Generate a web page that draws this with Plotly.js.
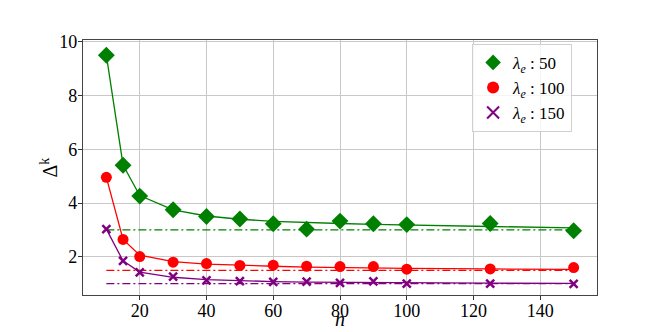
<!DOCTYPE html>
<html>
<head>
<meta charset="utf-8">
<script src="https://cdn.plot.ly/plotly-3.0.1.min.js"></script>
<style>html,body{margin:0;padding:0;background:#fff;}</style>
</head>
<body>
<div id="chart" style="width:664px;height:332px;"></div>
<script>
// Data
const nValues = [10, 15, 20, 30, 40, 50, 60, 70, 80, 90, 100, 125, 150];

const green50  = [9.50, 5.41, 4.26, 3.75, 3.50, 3.41, 3.23, 3.03, 3.33, 3.23, 3.20, 3.24, 2.97];
const red100   = [4.96, 2.65, 2.01, 1.80, 1.75, 1.68, 1.69, 1.65, 1.64, 1.64, 1.54, 1.55, 1.60];
const purple150 = [3.03, 1.85, 1.42, 1.26, 1.12, 1.10, 1.07, 1.08, 1.03, 1.09, 1.00, 1.00, 0.99];

const greenFit  = [9.50, 5.42, 4.28, 3.75, 3.52, 3.40, 3.32, 3.27, 3.24, 3.21, 3.18, 3.13, 3.08];
const redFit    = [4.96, 2.65, 2.06, 1.82, 1.73, 1.68, 1.65, 1.62, 1.60, 1.58, 1.57, 1.55, 1.53];
const purpleFit = [3.03, 1.85, 1.43, 1.24, 1.15, 1.11, 1.08, 1.06, 1.05, 1.04, 1.03, 1.02, 1.01];

const limitX = [10, 150];
const greenLimit = [3.0, 3.0];
const redLimit = [1.5, 1.5];
const purpleLimit = [1.0, 1.0];

const seriesNames = ['<i>λ</i><sub><i>e</i></sub> : 50', '<i>λ</i><sub><i>e</i></sub> : 100', '<i>λ</i><sub><i>e</i></sub> : 150'];
const xTicks = [20, 40, 60, 80, 100, 120, 140];
const yTicks = [2, 4, 6, 8, 10];
const xTitle = '<i>n</i>';
const yTitle = 'Δ<sup>k</sup>';

const G = 'green', R = 'red', P = 'purple';
const traces = [
  {x: nValues, y: greenFit, mode: 'lines', line: {color: G, width: 1.3}, showlegend: false, hoverinfo: 'skip'},
  {x: nValues, y: redFit, mode: 'lines', line: {color: R, width: 1.3}, showlegend: false, hoverinfo: 'skip'},
  {x: nValues, y: purpleFit, mode: 'lines', line: {color: P, width: 1.3}, showlegend: false, hoverinfo: 'skip'},
  {x: limitX, y: greenLimit, mode: 'lines', line: {color: G, width: 1.3, dash: '8px,3px,2px,3px'}, showlegend: false},
  {x: limitX, y: redLimit, mode: 'lines', line: {color: R, width: 1.3, dash: '8px,3px,2px,3px'}, showlegend: false},
  {x: limitX, y: purpleLimit, mode: 'lines', line: {color: P, width: 1.3, dash: '8px,3px,2px,3px'}, showlegend: false},
  {x: nValues, y: green50, mode: 'markers', name: seriesNames[0], marker: {symbol: 'diamond', color: G, size: 13}},
  {x: nValues, y: red100, mode: 'markers', name: seriesNames[1], marker: {symbol: 'circle', color: R, size: 11}},
  {x: nValues, y: purple150, mode: 'markers', name: seriesNames[2], marker: {symbol: 'x-thin', color: P, size: 8, line: {color: P, width: 2.5}}}
];

const fontFam = 'Liberation Serif';
const layout = {
  width: 664, height: 332,
  margin: {l: 83, r: 67, t: 40, b: 37},
  paper_bgcolor: '#fff', plot_bgcolor: '#fff',
  font: {family: fontFam, size: 16, color: '#000'},
  showlegend: true,
  legend: {x: 0.757, y: 0.985, xanchor: 'left', yanchor: 'top', bordercolor: '#d0d0d0', borderwidth: 1,
           bgcolor: 'rgba(255,255,255,0.8)', font: {family: fontFam, size: 17, color: '#000'}, itemsizing: 'constant', tracegroupgap: 0},
  xaxis: {range: [3, 157], tickvals: xTicks, ticks: 'outside', ticklen: 4, tickcolor: '#333',
          showgrid: true, gridcolor: '#c8c8c8', gridwidth: 1, zeroline: false,
          showline: true, linecolor: '#444', linewidth: 1.2, mirror: true, ticklabelstandoff: -5,
          tickfont: {family: fontFam, size: 18, color: '#000'}},
  yaxis: {range: [0.58, 10.07], tickvals: yTicks, ticks: 'outside', ticklen: 4, tickcolor: '#333',
          showgrid: true, gridcolor: '#c8c8c8', gridwidth: 1, zeroline: false,
          showline: true, linecolor: '#444', linewidth: 1.2, mirror: true, ticklabelstandoff: -3,
          tickfont: {family: fontFam, size: 18, color: '#000'}},
  annotations: [
    {text: xTitle, xref: 'paper', yref: 'paper', x: 0.5, y: -0.145, xanchor: 'center', yanchor: 'bottom',
     showarrow: false, font: {family: fontFam, size: 20, color: '#000'}},
    {text: yTitle, xref: 'paper', yref: 'paper', x: -0.068, y: 0.5, xanchor: 'center', yanchor: 'middle',
     textangle: -90, showarrow: false, font: {family: fontFam, size: 20, color: '#000'}}
  ]
};

Plotly.newPlot('chart', traces, layout, {staticPlot: true, displayModeBar: false});
</script>
</body>
</html>
